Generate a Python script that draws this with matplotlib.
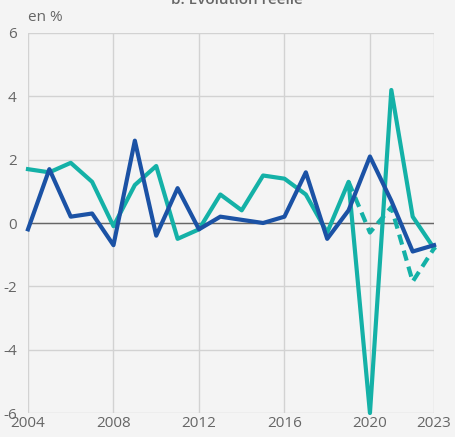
import matplotlib.pyplot as plt
import numpy as np

# data
years = list(range(2004, 2024))
teal = [1.7, 1.6, 1.9, 1.3, -0.1, 1.2, 1.8, -0.5, -0.2, 0.9,
        0.4, 1.5, 1.4, 0.9, -0.3, 1.3, -6.0, 4.2, 0.2, -0.8]
blue = [-0.2, 1.7, 0.2, 0.3, -0.7, 2.6, -0.4, 1.1, -0.2, 0.2,
        0.1, 0.0, 0.2, 1.6, -0.5, 0.4, 2.1, 0.7, -0.9, -0.7]
teal_dash = [np.nan] * 15 + [1.3, -0.3, 0.5, -1.85, -0.8]
xticks = [2004, 2008, 2012, 2016, 2020, 2023]
yticks = [-6, -4, -2, 0, 2, 4, 6]

plt.rcParams['font.family'] = ['Open Sans', 'DejaVu Sans']
plt.rcParams['axes.unicode_minus'] = False
bg = '#f4f4f4'
grey = '#666666'
c_teal = '#14b1a7'
c_blue = '#1b52a5'

fig = plt.figure(figsize=(4.55, 4.37), dpi=100, facecolor=bg)
ax = fig.add_axes([0.0615, 0.0549, 0.8925, 0.8696], facecolor=bg)

ax.plot(years, teal_dash, color=c_teal, lw=3, dashes=(2.5, 1.5), clip_on=False, zorder=3)
ax.plot(years, teal, color=c_teal, lw=3, clip_on=False, zorder=4)
ax.plot(years, blue, color=c_blue, lw=3, clip_on=False, zorder=5)

ax.axhline(0, color=grey, lw=1, zorder=2)

ax.set_xlim(2004, 2023)
ax.set_ylim(-6, 6)
ax.set_xticks(xticks)
ax.set_yticks(yticks)
ax.grid(True, color='#d2d2d2', lw=1, zorder=0)
ax.set_axisbelow(True)
for s in ax.spines.values():
    s.set_visible(False)
ax.tick_params(length=0, labelsize=11, colors=grey, pad=2)
ax.tick_params(axis='y', pad=8)

fig.text(0.0615, 0.960, 'en %', fontsize=11, color=grey, va='center', ha='left')
fig.text(0.52, 1.0, 'b. Évolution réelle', fontsize=11, color=grey,
         va='center', ha='center', fontweight='semibold')

fig.savefig('out.png', dpi=100, facecolor=bg)
